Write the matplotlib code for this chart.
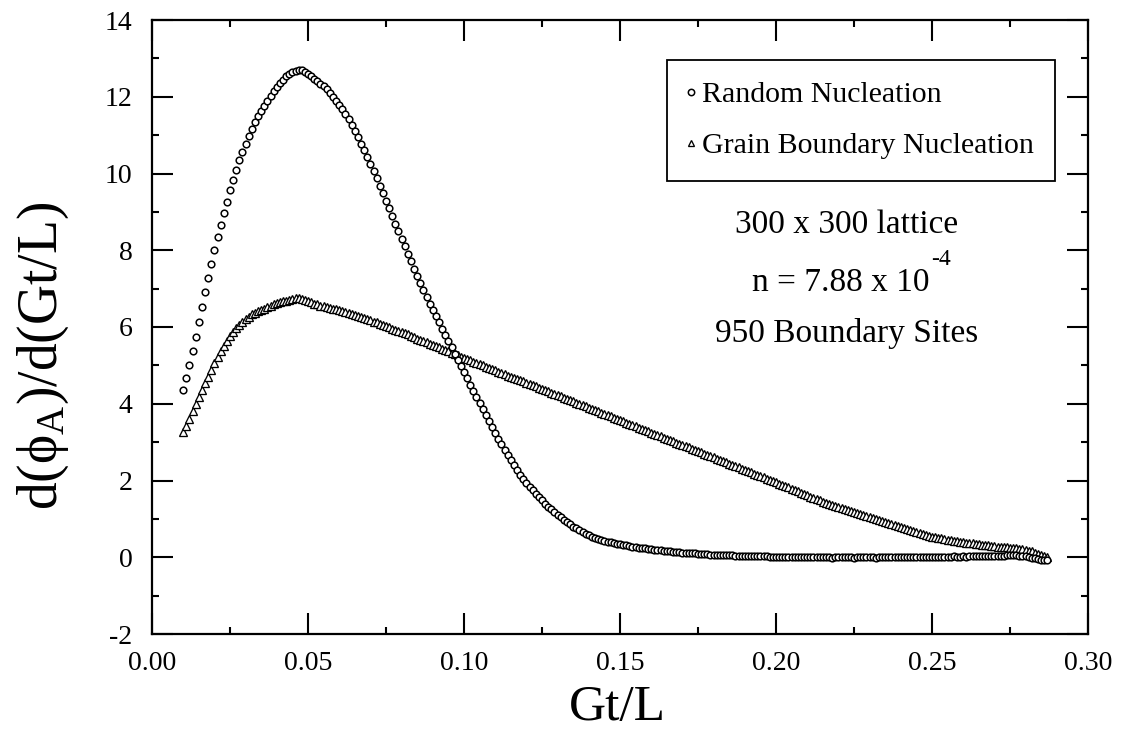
import numpy as np
import matplotlib
matplotlib.use("Agg")
import matplotlib.pyplot as plt

plt.rcParams['font.family'] = ['Liberation Serif', 'DejaVu Serif']
plt.rcParams['mathtext.fontset'] = 'custom'
plt.rcParams['mathtext.rm'] = 'Liberation Serif'
plt.rcParams['mathtext.it'] = 'Liberation Serif:italic'
plt.rcParams['axes.unicode_minus'] = False

# Gt/L sampling grid (step 0.001)
gt_l = np.round(np.arange(0.010, 0.2875, 0.001), 3)

random_nucleation = [
    4.35, 4.68, 5.02, 5.38, 5.75, 6.13, 6.52, 6.90, 7.28, 7.65,
    8.00, 8.34, 8.67, 8.97, 9.26, 9.56, 9.84, 10.10, 10.34, 10.55,
    10.77, 10.97, 11.15, 11.34, 11.49, 11.64, 11.77, 11.90, 12.03, 12.14,
    12.25, 12.36, 12.44, 12.53, 12.60, 12.64, 12.68, 12.71, 12.69, 12.65,
    12.59, 12.53, 12.47, 12.41, 12.34, 12.27, 12.19, 12.10, 12.00, 11.90,
    11.79, 11.67, 11.54, 11.41, 11.27, 11.11, 10.95, 10.78, 10.60, 10.43,
    10.25, 10.06, 9.87, 9.68, 9.49, 9.29, 9.09, 8.89, 8.69, 8.49,
    8.30, 8.10, 7.91, 7.72, 7.52, 7.33, 7.14, 6.96, 6.78, 6.61,
    6.45, 6.29, 6.12, 5.96, 5.79, 5.63, 5.47, 5.30, 5.14, 4.98,
    4.82, 4.66, 4.50, 4.34, 4.18, 4.02, 3.86, 3.70, 3.54, 3.39,
    3.24, 3.09, 2.94, 2.80, 2.66, 2.53, 2.40, 2.27, 2.15, 2.04,
    1.94, 1.84, 1.74, 1.65, 1.56, 1.48, 1.40, 1.32, 1.25, 1.18,
    1.11, 1.04, 0.98, 0.92, 0.86, 0.80, 0.75, 0.70, 0.65, 0.61,
    0.57, 0.54, 0.51, 0.48, 0.45, 0.43, 0.41, 0.39, 0.37, 0.35,
    0.34, 0.32, 0.31, 0.29, 0.28, 0.27, 0.25, 0.24, 0.23, 0.22,
    0.21, 0.20, 0.19, 0.18, 0.17, 0.16, 0.15, 0.14, 0.14, 0.13,
    0.12, 0.12, 0.11, 0.10, 0.10, 0.09, 0.09, 0.08, 0.08, 0.07,
    0.07, 0.06, 0.06, 0.06, 0.05, 0.05, 0.05, 0.04, 0.04, 0.04,
    0.03, 0.03, 0.03, 0.02, 0.02, 0.02, 0.02, 0.02, 0.01, 0.01,
    0.01, 0.01, 0.01, 0.00, 0.01, 0.01, 0.00, 0.00, 0.01, 0.00,
    0.00, 0.01, 0.00, 0.00, 0.00, 0.01, 0.00, 0.00, -0.01, 0.00,
    0.00, 0.00, 0.01, 0.00, 0.00, -0.01, 0.00, 0.00, 0.00, 0.01,
    0.00, 0.00, -0.01, 0.00, 0.00, 0.00, 0.01, 0.00, 0.00, 0.00,
    0.00, 0.01, 0.00, 0.00, 0.00, 0.00, 0.01, 0.00, 0.00, 0.01,
    0.00, 0.01, 0.01, 0.00, 0.01, 0.01, 0.01, 0.02, 0.01, 0.01,
    0.02, 0.01, 0.02, 0.02, 0.02, 0.03, 0.02, 0.03, 0.03, 0.03,
    0.03, 0.04, 0.04, 0.04, 0.05, 0.05, 0.05, 0.05, 0.04, 0.03,
    0.02, 0.00, -0.02, -0.03, -0.05, -0.06, -0.07, -0.07,
]

grain_boundary_nucleation = [
    3.26, 3.42, 3.61, 3.81, 3.99, 4.18, 4.37, 4.53, 4.70, 4.88,
    5.05, 5.21, 5.38, 5.51, 5.64, 5.76, 5.87, 5.97, 6.06, 6.14,
    6.20, 6.26, 6.33, 6.37, 6.41, 6.44, 6.48, 6.52, 6.56, 6.59,
    6.62, 6.65, 6.67, 6.69, 6.71, 6.73, 6.75, 6.76, 6.74, 6.70,
    6.67, 6.64, 6.61, 6.59, 6.56, 6.54, 6.52, 6.50, 6.48, 6.47,
    6.45, 6.42, 6.39, 6.37, 6.34, 6.32, 6.29, 6.27, 6.23, 6.20,
    6.17, 6.14, 6.12, 6.09, 6.06, 6.03, 5.99, 5.95, 5.93, 5.90,
    5.87, 5.84, 5.81, 5.77, 5.74, 5.70, 5.67, 5.64, 5.60, 5.57,
    5.53, 5.50, 5.47, 5.43, 5.40, 5.37, 5.33, 5.30, 5.27, 5.23,
    5.20, 5.17, 5.13, 5.10, 5.07, 5.03, 5.00, 4.97, 4.93, 4.90,
    4.87, 4.83, 4.80, 4.77, 4.73, 4.70, 4.67, 4.64, 4.61, 4.58,
    4.55, 4.52, 4.48, 4.45, 4.42, 4.39, 4.35, 4.32, 4.29, 4.26,
    4.22, 4.19, 4.16, 4.13, 4.09, 4.06, 4.03, 3.99, 3.96, 3.93,
    3.90, 3.86, 3.83, 3.80, 3.77, 3.73, 3.70, 3.67, 3.64, 3.60,
    3.57, 3.54, 3.51, 3.47, 3.44, 3.41, 3.38, 3.34, 3.31, 3.28,
    3.25, 3.21, 3.18, 3.15, 3.12, 3.08, 3.05, 3.02, 2.99, 2.95,
    2.92, 2.89, 2.86, 2.82, 2.79, 2.76, 2.73, 2.69, 2.66, 2.63,
    2.60, 2.56, 2.53, 2.50, 2.47, 2.43, 2.40, 2.37, 2.34, 2.30,
    2.27, 2.24, 2.21, 2.17, 2.14, 2.11, 2.08, 2.04, 2.01, 1.98,
    1.95, 1.92, 1.88, 1.85, 1.82, 1.78, 1.75, 1.72, 1.68, 1.65,
    1.62, 1.58, 1.55, 1.52, 1.48, 1.45, 1.42, 1.38, 1.35, 1.33,
    1.30, 1.28, 1.25, 1.23, 1.20, 1.18, 1.15, 1.13, 1.10, 1.08,
    1.05, 1.03, 1.00, 0.97, 0.95, 0.92, 0.89, 0.87, 0.84, 0.81,
    0.79, 0.76, 0.74, 0.71, 0.68, 0.66, 0.63, 0.61, 0.58, 0.56,
    0.53, 0.52, 0.50, 0.49, 0.47, 0.46, 0.45, 0.43, 0.42, 0.41,
    0.39, 0.38, 0.37, 0.36, 0.35, 0.34, 0.33, 0.32, 0.31, 0.30,
    0.29, 0.28, 0.27, 0.26, 0.26, 0.25, 0.24, 0.23, 0.22, 0.21,
    0.19, 0.17, 0.15, 0.12, 0.09, 0.06, 0.03, 0.00,
]

x_ticks = [0.00, 0.05, 0.10, 0.15, 0.20, 0.25, 0.30]
x_tick_labels = ["0.00", "0.05", "0.10", "0.15", "0.20", "0.25", "0.30"]
y_ticks = [-2, 0, 2, 4, 6, 8, 10, 12, 14]
y_tick_labels = ["-2", "0", "2", "4", "6", "8", "10", "12", "14"]
series_labels = ["Random Nucleation", "Grain Boundary Nucleation"]
info_lines = ["300 x 300 lattice", "n = 7.88 x 10", "-4", "950 Boundary Sites"]

W, H = 1121, 729
fig = plt.figure(figsize=(W / 100, H / 100), dpi=100)
ax = fig.add_axes([152 / W, 1 - 634 / H, (1088 - 152) / W, (634 - 20) / H])

ax.plot(gt_l, random_nucleation, linestyle='none', marker='o', ms=4.8,
        mfc='white', mec='black', mew=1.1, label=series_labels[0], zorder=3)
ax.plot(gt_l, grain_boundary_nucleation, linestyle='none', marker='^', ms=5.2,
        mfc='white', mec='black', mew=0.95, label=series_labels[1], zorder=2)

ax.set_xlim(0.0, 0.30)
ax.set_ylim(-2, 14)
ax.set_xticks(x_ticks)
ax.set_xticklabels(x_tick_labels)
ax.set_yticks(y_ticks)
ax.set_yticklabels(y_tick_labels)
ax.set_xticks(np.arange(0.025, 0.30, 0.05), minor=True)
ax.set_yticks(np.arange(-1, 14, 2), minor=True)

ax.tick_params(which='both', direction='in', top=True, right=True,
               width=1.5, colors='black')
ax.tick_params(which='major', length=15)
ax.tick_params(which='minor', length=5)
ax.tick_params(axis='x', which='major', labelsize=20, pad=12)
ax.tick_params(axis='y', which='major', labelsize=20, pad=14)
for s in ax.spines.values():
    s.set_linewidth(1.6)

ax.set_xlabel("Gt/L", fontsize=37)
ax.xaxis.set_label_coords(0.497, -0.082)
ax.set_ylabel(r"d($\mathregular{\phi}_{\mathregular{A}}$)/d(Gt/L)", fontsize=40)
ax.yaxis.set_label_coords(-0.087, 0.453)

leg = ax.legend(loc='upper left', bbox_to_anchor=(0.550, 0.935),
                borderaxespad=0, fontsize=21.5, frameon=True, fancybox=False,
                edgecolor='black', framealpha=1, markerscale=0.95,
                handlelength=0.2, handletextpad=0.25,
                borderpad=0.72, labelspacing=0.8)
leg.get_frame().set_linewidth(1.3)

info_x = 0.2225
ax.text(info_x, 8.44, info_lines[0], fontsize=24, ha='center', va='baseline')
t_n = ax.text(0.2208, 6.95, info_lines[1], fontsize=24, ha='center',
              va='baseline')
ax.annotate(info_lines[2], xy=(1, 1), xycoords=t_n, xytext=(1, 13),
            textcoords='offset points', fontsize=17, ha='left', va='top')
ax.text(info_x, 5.62, info_lines[3], fontsize=24, ha='center', va='baseline')

fig.savefig("out.png", dpi=100)
